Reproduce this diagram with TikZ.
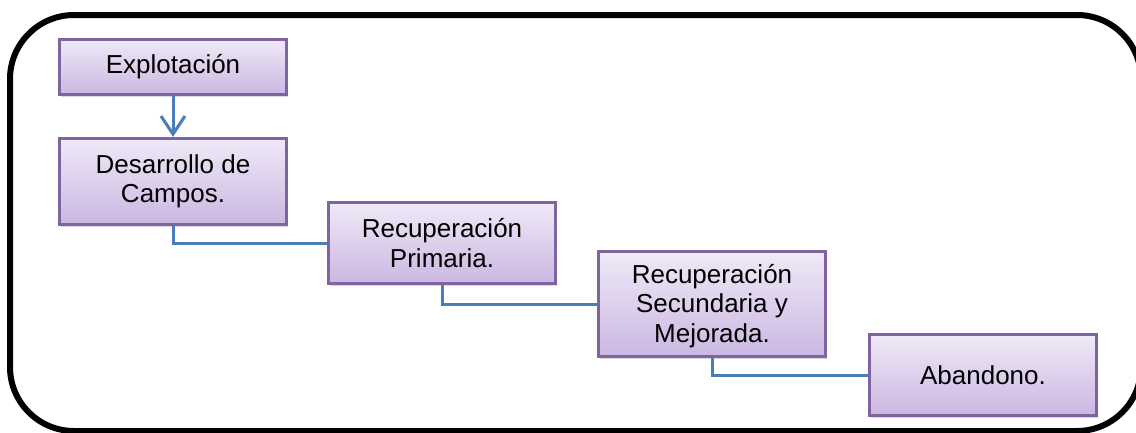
\documentclass[tikz,border=0pt]{standalone}
\usepackage{fontspec}
\setmainfont{Liberation Sans}
\usepackage{xcolor}
\usetikzlibrary{arrows.meta,shadows}

\definecolor{lilaClaro}{HTML}{EFE9F7}
\definecolor{lilaOscuro}{HTML}{CBB7E1}
\definecolor{bordeLila}{HTML}{8064A2}
\definecolor{azulLinea}{HTML}{4A7EBB}

\tikzset{
  etapa/.style={draw=bordeLila, line width=3.5pt, top color=lilaClaro, bottom color=lilaOscuro,
    minimum width=227pt, align=center, inner sep=2pt,
    font=\fontsize{26}{29.5}\selectfont,
    drop shadow={shadow xshift=1.5pt, shadow yshift=-2.5pt, opacity=.3}},
  conector/.style={draw=azulLinea, line width=3pt},
}

\begin{document}
\begin{tikzpicture}[x=1pt,y=-1pt]
\useasboundingbox (0,0) rectangle (1136,432);
\draw [line width=6pt, rounded corners=64pt] (10,15) rectangle (1141,431);

\node[etapa, minimum height=55pt] (explot) at (173,67) {Explotación};
\node[etapa, minimum height=86pt] (desarrollo) at (173,181.5) {Desarrollo de\\Campos.};
\node[etapa, minimum height=81pt] (primaria) at (442,243) {Recuperación\\Primaria.};
\node[etapa, minimum height=105pt, text depth=2pt] (secundaria) at (712,304) {Recuperación\\Secundaria y\\Mejorada.};
\node[etapa, minimum height=81pt] (abandono) at (983,375) {Abandono.};

\draw [conector, -{Straight Barb[length=18pt,width=24pt,line width=3pt]}] (explot) -- (desarrollo);
\draw [conector] (desarrollo.south) |- (primaria.west);
\draw [conector] (primaria.south) |- (secundaria.west);
\draw [conector] (secundaria.south) |- (abandono.west);

\end{tikzpicture}
\end{document}
